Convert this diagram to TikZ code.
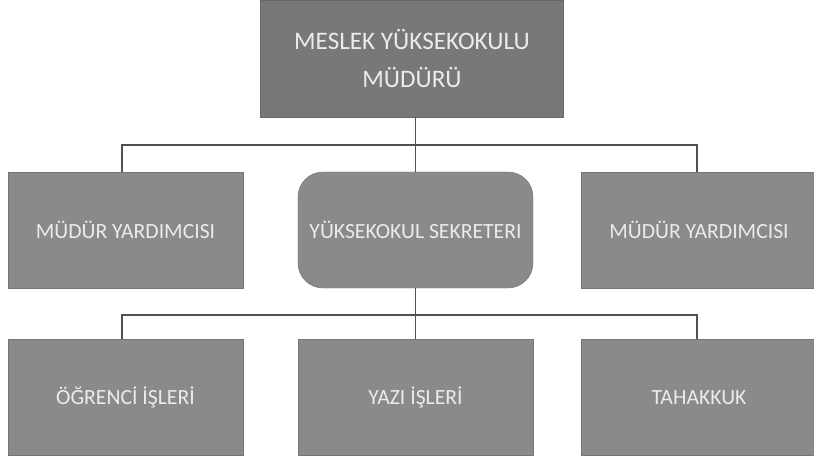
\documentclass[tikz,border=0pt]{standalone}
\usepackage{fontspec}
\setmainfont{Carlito}
\usetikzlibrary{positioning}
\definecolor{boxgray}{RGB}{138,138,138}
\definecolor{topgray}{RGB}{120,120,120}
\definecolor{linegray}{RGB}{80,80,80}
\definecolor{txtgray}{RGB}{235,235,235}
\tikzset{
  unitbox/.style={draw=boxgray!85!black, fill=boxgray, text=txtgray,
    minimum width=7.05cm, minimum height=3.48cm, inner sep=0pt,
    font=\fontsize{18.5}{22}\selectfont, align=center},
  headbox/.style={unitbox, fill=topgray, draw=topgray!85!black,
    minimum width=9.1cm, minimum height=3.51cm,
    font=\fontsize{21.5}{33}\selectfont},
  link/.style={draw=linegray, line width=1.3pt}
}
\begin{document}
\begin{tikzpicture}[x=0.03cm,y=-0.03cm]
\useasboundingbox (0,0) rectangle (814,460);
\node [headbox] (mudur) at (412,58.5) {MESLEK YÜKSEKOKULU\\MÜDÜRÜ};
\node [unitbox] (yard1) at (125.5,230) {MÜDÜR YARDIMCISI};
\node [unitbox, rounded corners=0.75cm] (sekreter) at (415.5,230) {YÜKSEKOKUL SEKRETERI};
\node [unitbox] (yard2) at (699,230) {MÜDÜR YARDIMCISI};
\node [unitbox] (ogrenci) at (125.5,397.5) {ÖĞRENCİ İŞLERİ};
\node [unitbox] (yazi) at (415.5,397.5) {YAZI İŞLERİ};
\node [unitbox] (tahakkuk) at (699,397.5) {TAHAKKUK};
%
\coordinate (bar1) at (415.5,145);
\coordinate (bar2) at (415.5,315);
%
\draw [link] (mudur.south -| bar1) -- (bar1);
\draw [link] (bar1) -| (yard1.north -| 122,0);
\draw [link] (bar1) -- (sekreter);
\draw [link] (bar1) -| (yard2.north -| 697,0);
\draw [link] (sekreter) -- (bar2);
\draw [link] (bar2) -| (ogrenci.north -| 122,0);
\draw [link] (bar2) -- (yazi);
\draw [link] (bar2) -| (tahakkuk.north -| 697,0);
\end{tikzpicture}
\end{document}
